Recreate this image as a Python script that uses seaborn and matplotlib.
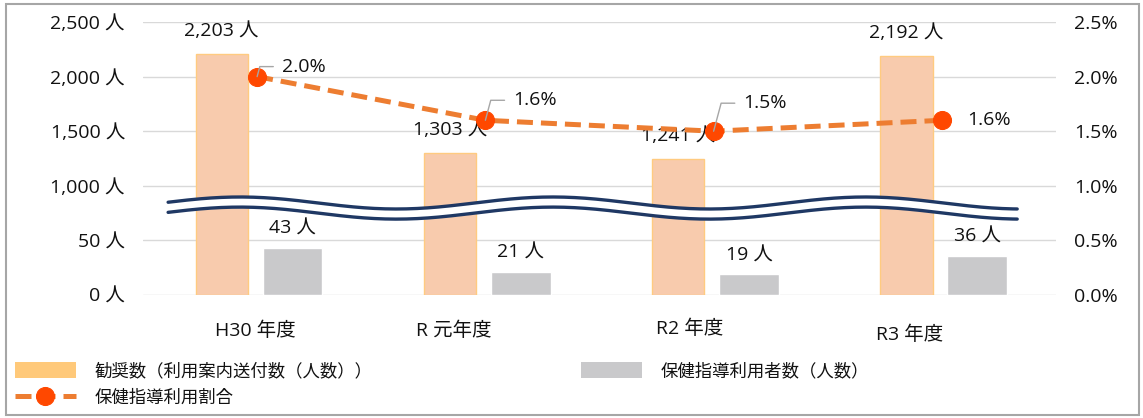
import numpy as np
import pandas as pd
import seaborn as sns
import matplotlib.pyplot as plt
import matplotlib.transforms as mtransforms
from matplotlib.patches import Patch, Rectangle

# data
years = ['H30 年度', 'R 元年度', 'R2 年度', 'R3 年度']
recommended = [2203, 1303, 1241, 2192]
users = [43, 21, 19, 36]
rate = [2.0, 1.6, 1.5, 1.6]
left_ticks = [0, 50, 1000, 1500, 2000, 2500]
right_ticks = [0.0, 0.5, 1.0, 1.5, 2.0, 2.5]
series_names = ['勧奨数（利用案内送付数（人数））', '保健指導利用者数（人数）', '保健指導利用割合']

# broken left axis: 0-50 and 50-1000 get one band each, then 500 per band
break_in = [0, 50, 1000, 2500]
break_out = [0, 1, 2, 5]


def fwd(v):
    return np.interp(v, break_in, break_out)


def inv(u):
    return np.interp(u, break_out, break_in)


sns.set_theme(style='white')
plt.rcParams['font.family'] = ['Open Sans', 'Noto Sans CJK JP', 'DejaVu Sans']
cjk = ['Noto Sans CJK JP', 'DejaVu Sans']
txt = '#111111'

df = pd.DataFrame({
    'year': years * 2,
    'series': [series_names[0]] * len(years) + [series_names[1]] * len(years),
    'value': recommended + users,
})

W, H = 1143, 418
fig = plt.figure(figsize=(W / 100, H / 100), dpi=100)
ax = fig.add_axes([143 / W, 1 - 295 / H, (1056 - 143) / W, (295 - 22) / H])

sns.barplot(data=df, x='year', y='value', hue='series',
            palette=['#F8CBAD', '#C9C9CB'], saturation=1,
            width=0.62, gap=0.26, legend=False, ax=ax, zorder=2)
for p in ax.containers[0]:
    p.set_edgecolor('#FFCB80')
    p.set_linewidth(1)
# grey bars are a little wider than the orange ones in the original
for p in ax.containers[1]:
    c = p.get_x() + p.get_width() / 2
    p.set_width(p.get_width() * 1.14)
    p.set_x(c - p.get_width() / 2)

ax.set_yscale('function', functions=(fwd, inv))
ax.set_ylim(0, 2500)
ax.set_xlim(-0.5, 3.5)
ax.set_yticks(left_ticks, labels=[f'{v:,} 人' for v in left_ticks])
ax.yaxis.grid(True, color='#D9D9D9', lw=1)
ax.set_axisbelow(True)
ax.tick_params(axis='y', length=0, pad=13, labelsize=14, labelcolor=txt)
ax.tick_params(axis='x', length=0, pad=19, labelsize=14, labelcolor=txt)
ax.set_xlabel('')
ax.set_ylabel('')
for s in ax.spines.values():
    s.set_visible(False)

# nudge category labels like the original text boxes
label_shift = [(-2, 0), (-32, 0), (-24, 2), (-32, -4)]
for lab, (dx, dy) in zip(ax.get_xticklabels(), label_shift):
    lab.set_transform(lab.get_transform() +
                      mtransforms.ScaledTranslation(dx / 100, dy / 100, fig.dpi_scale_trans))

# value labels on bars
for cont, vals, dy in [(ax.containers[0], recommended, 14), (ax.containers[1], users, 10)]:
    for p, v in zip(cont, vals):
        ax.annotate(f'{v:,} 人', (p.get_x() + p.get_width() / 2, v),
                    xytext=(0, dy), textcoords='offset pixels',
                    ha='center', va='bottom', fontsize=14, color=txt, zorder=6)

# rate line on right axis
ax2 = ax.twinx()
sns.lineplot(x=np.arange(len(years)), y=rate, ax=ax2, color='#ED7D31', lw=3.6,
             linestyle=(0, (3.2, 1.6)), marker='o', markersize=13,
             markerfacecolor='#FF4800', markeredgecolor='#FF4800', zorder=4)
ax2.set_ylim(0, 2.5)
ax2.set_yticks(right_ticks, labels=[f'{v:.1f}%' for v in right_ticks])
ax2.tick_params(axis='y', length=0, pad=13, labelsize=14, labelcolor=txt)
ax2.grid(False)
for s in ax2.spines.values():
    s.set_visible(False)

rate_offsets = [(25, 10), (28, 20), (30, 28), (25, 0)]
for i, (v, (ox, oy)) in enumerate(zip(rate, rate_offsets)):
    arrow = None
    if oy > 0:
        arrow = dict(arrowstyle='-', color='#A6A6A6', lw=1, shrinkA=4, shrinkB=0,
                     relpos=(0, 0.5), connectionstyle='angle,angleA=0,angleB=75,rad=0')
    ax2.annotate(f'{v:.1f}%', (i, v), xytext=(ox, oy), textcoords='offset pixels',
                 ha='left', va='center', fontsize=14, color=txt,
                 arrowprops=arrow, zorder=6)

# wavy break marks
trans = mtransforms.blended_transform_factory(ax.transData, ax.transAxes)
xs = np.linspace(-0.39, 3.33, 400)
wave = 0.022 * np.cos(2 * np.pi * (xs + 0.075) / 1.37)
upper = 0.337 + wave
lower = 0.300 + wave
ax.fill_between(xs, lower, upper, transform=trans, color='white', zorder=5, clip_on=False)
ax.plot(xs, upper, transform=trans, color='#1F3864', lw=2.4, zorder=5, clip_on=False)
ax.plot(xs, lower, transform=trans, color='#1F3864', lw=2.4, zorder=5, clip_on=False)

# legend
handles = [Patch(facecolor='#FFC97A', edgecolor='none'), ax2.lines[0],
           Patch(facecolor='#C9C9CB', edgecolor='none')]
labels = [series_names[0], series_names[2], series_names[1]]
fig.legend(handles, labels, ncol=2, loc='upper left', bbox_to_anchor=(15 / W, 1 - 362 / H),
           frameon=False, prop={'family': cjk, 'size': 12.5}, handlelength=3.5,
           handleheight=1.0, handletextpad=1.1, columnspacing=12.0, labelspacing=0.5,
           borderpad=0, borderaxespad=0, labelcolor=txt)

fig.patches.append(Rectangle((6 / W, 3 / H), 1 - 10 / W, 1 - 7 / H, transform=fig.transFigure,
                             fill=False, edgecolor='#A6A6A6', lw=1.5))

fig.savefig('out.png', dpi=100)
